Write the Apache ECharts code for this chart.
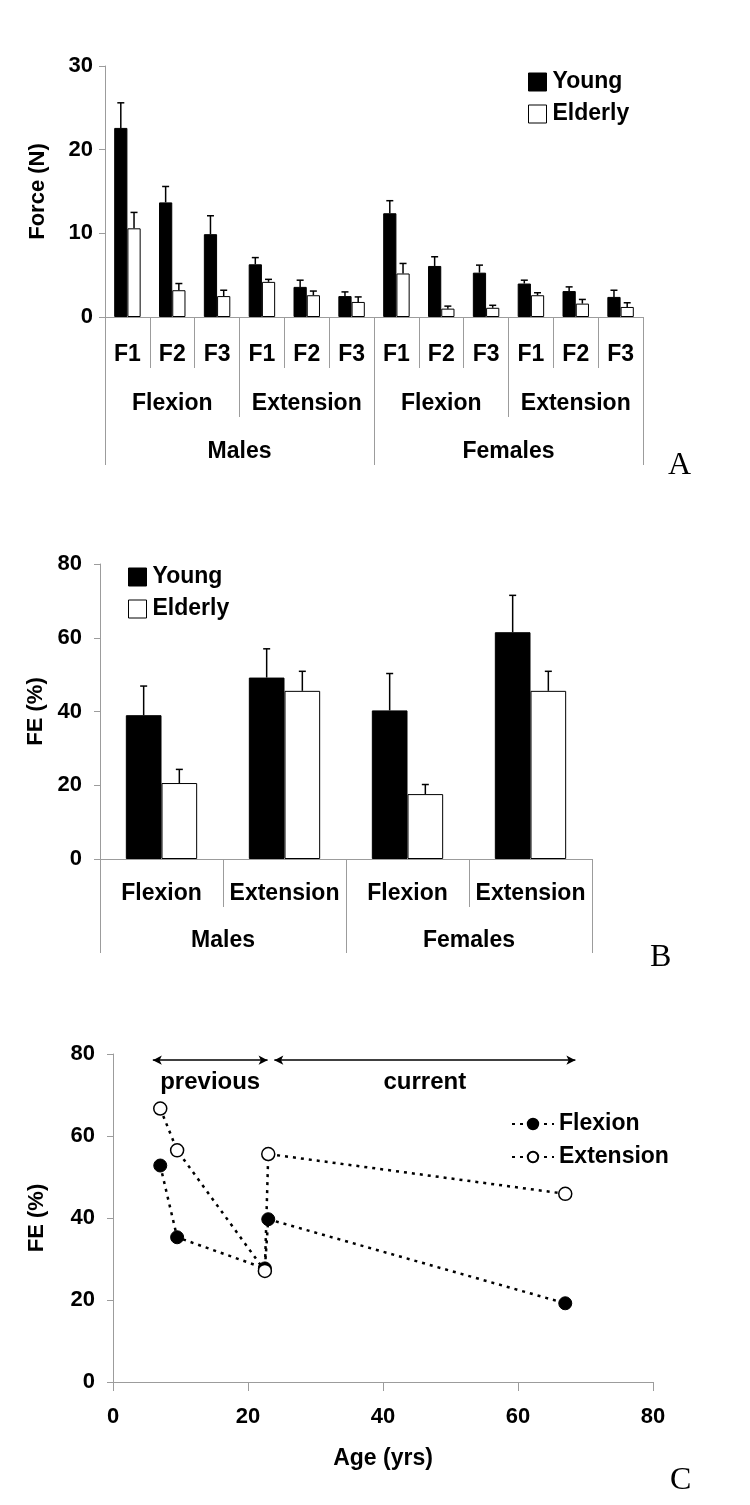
<!DOCTYPE html>
<html>
<head>
<meta charset="utf-8">
<script src="https://cdn.jsdelivr.net/npm/echarts@6/dist/echarts.min.js"></script>
<style>
html,body{margin:0;padding:0;background:#fff;}
#chart{width:750px;height:1505px;}
</style>
</head>
<body>
<div id="chart"></div>
<script>
// ---------- Panel A data ----------
const fingerLabels = ['F1','F2','F3','F1','F2','F3','F1','F2','F3','F1','F2','F3'];
const movementLabelsA = ['Flexion','Extension','Flexion','Extension'];
const sexLabelsA = ['Males','Females'];
const forceYoung     = [22.6, 13.7, 9.9, 6.3, 3.6, 2.5, 12.4, 6.1, 5.3, 4.0, 3.1, 2.4];
const forceYoungSD   = [3.0, 1.9, 2.2, 0.8, 0.8, 0.5, 1.5, 1.1, 0.9, 0.4, 0.5, 0.8];
const forceElderly   = [10.6, 3.2, 2.5, 4.2, 2.6, 1.8, 5.2, 1.0, 1.1, 2.6, 1.6, 1.2];
const forceElderlySD = [1.9, 0.8, 0.7, 0.3, 0.5, 0.6, 1.2, 0.3, 0.3, 0.3, 0.5, 0.5];

// ---------- Panel B data ----------
const movementLabelsB = ['Flexion','Extension','Flexion','Extension'];
const sexLabelsB = ['Males','Females'];
const feYoung     = [39.0, 49.2, 40.3, 61.5];
const feYoungSD   = [7.9, 7.8, 10.0, 10.0];
const feElderly   = [20.6, 45.6, 17.6, 45.6];
const feElderlySD = [3.7, 5.3, 2.6, 5.3];

// ---------- Panel C data ----------
const flexionC   = [[7, 52.8], [9.5, 35.3], [22.5, 27.7], [23, 39.7], [67, 19.2]];
const extensionC = [[7, 66.7], [9.5, 56.5], [22.5, 27.1], [23, 55.6], [67, 45.9]];
const arrowY = 78.5;
const arrowPrevious = [5.9, 22.9];
const arrowCurrent  = [23.9, 68.5];

const FONT = 'Liberation Sans, Arial, sans-serif';
const GRAY = '#9c9c9c';
const lbl = (size) => ({color:'#000', fontFamily:FONT, fontWeight:'bold', fontSize:size});

function errSeries(means, sds, xi, yi, side, gap) {
  return {
    type:'custom', xAxisIndex:xi, yAxisIndex:yi, z:5, silent:true,
    data: means.map((m,i)=>[i, m, sds[i]]),
    renderItem:(params, api)=>{
      const i = api.value(0), m = api.value(1), s = api.value(2);
      const b = api.coord([i, m]), t = api.coord([i, m + s]);
      const band = api.size([1, 0])[0];
      const x = b[0] + side * band * (1 - gap) / 4;
      return {type:'group', children:[
        {type:'line', shape:{x1:x, y1:b[1], x2:x, y2:t[1]}, style:{stroke:'#000', lineWidth:1.5}},
        {type:'line', shape:{x1:x-3.5, y1:t[1], x2:x+3.5, y2:t[1]}, style:{stroke:'#000', lineWidth:1.5}}
      ]};
    }
  };
}

const yAxisBase = (grid, max, interval, name, gap, margin) => ({
  type:'value', gridIndex:grid, min:0, max:max, interval:interval,
  name:name, nameLocation:'middle', nameRotate:90, nameGap:gap,
  nameTextStyle:lbl(22),
  axisLine:{show:true, lineStyle:{color:GRAY, width:1}},
  axisTick:{show:true, length:6, lineStyle:{color:GRAY}},
  axisLabel:Object.assign({margin:margin}, lbl(22)),
  splitLine:{show:false}
});

const catAxis = (grid, data, tickLen, margin, showLine) => ({
  type:'category', gridIndex:grid, data:data, position:'bottom', offset:0,
  axisLine:{show:showLine, lineStyle:{color:GRAY, width:1}},
  axisTick:{show:true, length:tickLen, lineStyle:{color:GRAY}},
  axisLabel:Object.assign({margin:margin, interval:0}, lbl(23)),
  splitLine:{show:false}
});

const GAP_A = 0.41, GAP_B = 0.42;
const legendBars = (left, top) => ({
  data:[{name:'Young', itemStyle:{color:'#000', borderColor:'#000', borderWidth:1}},
        {name:'Elderly', itemStyle:{color:'#fff', borderColor:'#000', borderWidth:1}}],
  orient:'vertical', left:left, top:top, icon:'rect', itemWidth:18, itemHeight:18, itemGap:6,
  textStyle:Object.assign({lineHeight:26, padding:[0,0,0,1]}, lbl(23)), selectedMode:false
});

const option = {
  animation:false,
  backgroundColor:'#fff',
  grid:[
    {left:105, top:66, width:538, height:251},
    {left:100, top:564, width:492, height:295},
    {left:113, top:1054, width:540, height:328}
  ],
  legend:[
    legendBars(523, 64),
    legendBars(123, 559),
    {data:['Flexion','Extension'], orient:'vertical', left:506, top:1106,
     itemWidth:42, itemHeight:13, itemGap:7, selectedMode:false,
     textStyle:Object.assign({lineHeight:26}, lbl(23))}
  ],
  xAxis:[
    catAxis(0, fingerLabels, 51, 26, true),
    catAxis(0, movementLabelsA, 100, 75, false),
    catAxis(0, sexLabelsA, 148, 123, false),
    catAxis(1, movementLabelsB, 48, 23, true),
    catAxis(1, sexLabelsB, 94, 70, false),
    {type:'value', gridIndex:2, min:0, max:80, interval:20,
     name:'Age (yrs)', nameLocation:'middle', nameGap:65, nameTextStyle:lbl(23),
     axisLine:{show:true, lineStyle:{color:GRAY}},
     axisTick:{show:true, length:9, lineStyle:{color:GRAY}},
     axisLabel:Object.assign({margin:24}, lbl(22)),
     splitLine:{show:false}}
  ],
  yAxis:[
    yAxisBase(0, 30, 10, 'Force (N)', 56, 12),
    yAxisBase(1, 80, 20, 'FE (%)', 53, 18),
    yAxisBase(2, 80, 20, 'FE (%)', 65, 18)
  ],
  series:[
    {name:'Young', type:'bar', xAxisIndex:0, yAxisIndex:0, data:forceYoung,
     barGap:'0%', barCategoryGap:(GAP_A*100)+'%', itemStyle:{color:'#000', borderColor:'#000', borderWidth:1}},
    {name:'Elderly', type:'bar', xAxisIndex:0, yAxisIndex:0, data:forceElderly,
     barGap:'0%', barCategoryGap:(GAP_A*100)+'%', itemStyle:{color:'#fff', borderColor:'#000', borderWidth:1}},
    errSeries(forceYoung, forceYoungSD, 0, 0, -1, GAP_A),
    errSeries(forceElderly, forceElderlySD, 0, 0, 1, GAP_A),

    {name:'Young', type:'bar', xAxisIndex:3, yAxisIndex:1, data:feYoung,
     barGap:'0%', barCategoryGap:(GAP_B*100)+'%', itemStyle:{color:'#000', borderColor:'#000', borderWidth:1}},
    {name:'Elderly', type:'bar', xAxisIndex:3, yAxisIndex:1, data:feElderly,
     barGap:'0%', barCategoryGap:(GAP_B*100)+'%', itemStyle:{color:'#fff', borderColor:'#000', borderWidth:1}},
    errSeries(feYoung, feYoungSD, 3, 1, -1, GAP_B),
    errSeries(feElderly, feElderlySD, 3, 1, 1, GAP_B),

    {name:'Flexion', type:'line', xAxisIndex:5, yAxisIndex:2, data:flexionC, z:3,
     symbol:'circle', symbolSize:13,
     lineStyle:{color:'#000', width:2.5, type:[3,5]},
     itemStyle:{color:'#000', borderColor:'#000', borderWidth:1},
     markLine:{silent:true, symbol:['arrow','arrow'], symbolSize:[7,9],
       lineStyle:{color:'#000', width:1.5, type:'solid'},
       label:Object.assign({show:true, position:'insideMiddleBottom', distance:10, formatter:'{b}'}, lbl(24)),
       data:[
         [{coord:[arrowPrevious[0], arrowY], name:'previous'}, {coord:[arrowPrevious[1], arrowY]}],
         [{coord:[arrowCurrent[0], arrowY], name:'current'}, {coord:[arrowCurrent[1], arrowY]}]
       ]
     }},
    {name:'Extension', type:'line', xAxisIndex:5, yAxisIndex:2, data:extensionC, z:4,
     symbol:'circle', symbolSize:13,
     lineStyle:{color:'#000', width:2.5, type:[3,5]},
     itemStyle:{color:'#fff', borderColor:'#000', borderWidth:1.5}}
  ],
  graphic:[
    {type:'text', left:668, top:450, style:{text:'A', font:'32px "Liberation Serif", serif', fill:'#000'}},
    {type:'text', left:650, top:942, style:{text:'B', font:'32px "Liberation Serif", serif', fill:'#000'}},
    {type:'text', left:670, top:1465, style:{text:'C', font:'32px "Liberation Serif", serif', fill:'#000'}}
  ]
};

const chart = echarts.init(document.getElementById('chart'), null, {renderer:'canvas'});
chart.setOption(option);
</script>
</body>
</html>
